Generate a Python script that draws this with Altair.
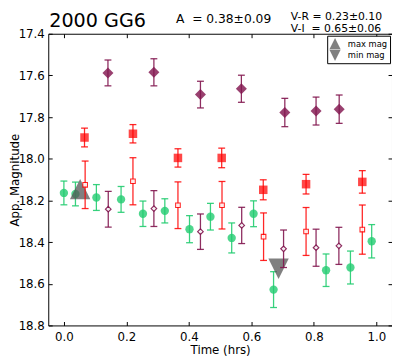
import altair as alt
import pandas as pd

# ---------------- data ----------------
# purple filled diamonds
pf_t = [0.141, 0.288, 0.437, 0.568, 0.707, 0.807, 0.881]
pf_m = [17.588, 17.585, 17.692, 17.664, 17.778, 17.771, 17.762]
pf_e = [0.062, 0.065, 0.064, 0.065, 0.068, 0.067, 0.068]
# red filled squares
rf_t = [0.066, 0.221, 0.365, 0.505, 0.638, 0.775, 0.955]
rf_m = [17.898, 17.880, 17.996, 17.996, 18.149, 18.122, 18.111]
rf_e = [0.045, 0.044, 0.044, 0.047, 0.048, 0.047, 0.054]
# red open squares
ro_t = [0.068, 0.221, 0.365, 0.506, 0.639, 0.775, 0.955]
ro_m = [18.125, 18.108, 18.223, 18.223, 18.374, 18.349, 18.340]
ro_e = [0.114, 0.113, 0.112, 0.114, 0.114, 0.115, 0.118]
# purple open diamonds
po_t = [0.142, 0.288, 0.437, 0.569, 0.703, 0.807, 0.880]
po_m = [18.242, 18.239, 18.350, 18.320, 18.432, 18.427, 18.418]
po_e = [0.086, 0.086, 0.085, 0.087, 0.090, 0.089, 0.089]
# green circles
g_t = [0.0, 0.037, 0.104, 0.183, 0.253, 0.323, 0.402, 0.469, 0.537, 0.607, 0.671, 0.839, 0.917, 0.985]
g_m = [18.164, 18.169, 18.186, 18.195, 18.264, 18.250, 18.338, 18.278, 18.380, 18.264, 18.628, 18.535, 18.522, 18.396]
g_e = [0.057, 0.057, 0.062, 0.062, 0.061, 0.058, 0.065, 0.064, 0.072, 0.062, 0.086, 0.078, 0.079, 0.080]
# extremes (triangles)
ext_t = [0.052, 0.687]
ext_m = [18.146, 18.528]
ext_k = ["max mag", "min mag"]

x_ticks = [0.0, 0.2, 0.4, 0.6, 0.8, 1.0]
y_ticks = [17.4, 17.6, 17.8, 18.0, 18.2, 18.4, 18.6, 18.8]

title_txt = "2000 GG6"
amp_txt = "A\u00a0 = 0.38±0.09"
vr_txt = "V-R = 0.23±0.10"
vi_txt = "V-I\u00a0 = 0.65±0.06"

# ---------------- styling ----------------
FONT = "DejaVu Sans"
W, H = 350, 297
GREEN = "#22cc70"
RED = "#ff0000"
PURPLE = "#82164f"
GRAY = "#555555"
UP = "M0,-1L1,1L-1,1Z"
DOWN = "M0,1L1,-1L-1,-1Z"

xs = alt.Scale(domain=[-0.05, 1.05], nice=False, zero=False)
ys = alt.Scale(domain=[17.4, 18.8], reverse=True, nice=False, zero=False)


def frame(t, m, e):
    d = pd.DataFrame({"t": t, "mag": m})
    d["lo"] = [a - b for a, b in zip(m, e)]
    d["hi"] = [a + b for a, b in zip(m, e)]
    return d


def errbars(d, color, opacity=1.0):
    base = alt.Chart(d)
    rule = base.mark_rule(color=color, strokeWidth=1.3, opacity=opacity).encode(
        x=alt.X("t:Q", scale=xs, axis=None),
        y=alt.Y("lo:Q", scale=ys, axis=None),
        y2="hi:Q",
    )
    caps = [
        base.mark_tick(orient="horizontal", size=7, thickness=1.3, color=color, opacity=opacity).encode(
            x=alt.X("t:Q", scale=xs, axis=None),
            y=alt.Y(f"{f}:Q", scale=ys, axis=None),
        )
        for f in ("lo", "hi")
    ]
    return [rule] + caps


def points(d, shape, size, fill, stroke, opacity, sw=0.0):
    return alt.Chart(d).mark_point(
        shape=shape, size=size, fill=fill, stroke=stroke, strokeWidth=sw,
        opacity=opacity, fillOpacity=1, strokeOpacity=1,
    ).encode(
        x=alt.X("t:Q", scale=xs, axis=None),
        y=alt.Y("mag:Q", scale=ys, axis=None),
    )


common_lab = dict(labelFont=FONT, labelFontSize=12, labelColor="black",
                  titleFont=FONT, titleFontSize=12, titleColor="black", titleFontWeight="normal")
tick_ax = dict(labels=False, title=None, domain=False, grid=False, ticks=True,
               tickSize=4, tickColor="black", tickWidth=1)

x_main = alt.Axis(orient="bottom", values=x_ticks, format=".1f", title="Time (hrs)", ticks=False,
                  tickSize=0, domain=False, grid=False, labelPadding=6, titlePadding=3, **common_lab)
y_main = alt.Axis(orient="left", values=y_ticks, format=".1f", title="App. Magnitude", ticks=False,
                  tickSize=0, domain=False, grid=False, labelPadding=4, titleX=-27, **common_lab)
x_in_bottom = alt.Axis(orient="top", offset=-H, values=x_ticks, **tick_ax)
x_in_top = alt.Axis(orient="bottom", offset=-H, values=x_ticks, **tick_ax)
y_in_left = alt.Axis(orient="right", offset=-W, values=y_ticks, **tick_ax)
y_in_right = alt.Axis(orient="left", offset=-W, values=y_ticks, **tick_ax)

gdf = frame(g_t, g_m, g_e)
carriers = [
    alt.Chart(gdf).mark_point(opacity=0).encode(
        x=alt.X("t:Q", scale=xs, axis=xa), y=alt.Y("mag:Q", scale=ys, axis=ya))
    for xa, ya in [(x_main, y_main), (x_in_bottom, y_in_left), (x_in_top, y_in_right)]
]

ext_df = pd.DataFrame({"t": ext_t, "mag": ext_m, "kind": ext_k})
tri = alt.Chart(ext_df).mark_point(filled=True, size=430, color=GRAY, opacity=0.75, strokeWidth=0).encode(
    x=alt.X("t:Q", scale=xs, axis=None),
    y=alt.Y("mag:Q", scale=ys, axis=None),
    shape=alt.Shape("kind:N", scale=alt.Scale(domain=ext_k, range=[UP, DOWN]),
                    legend=alt.Legend(title=None, orient="top-right", offset=2, fillColor="white",
                                      strokeColor="black", padding=2, cornerRadius=0,
                                      labelFont=FONT, labelFontSize=8.5, labelColor="black",
                                      labelOffset=7, symbolSize=130, symbolFillColor=GRAY,
                                      symbolStrokeWidth=0, symbolOpacity=0.75, rowPadding=0)),
)

rodf = frame(ro_t, ro_m, ro_e)
rfdf = frame(rf_t, rf_m, rf_e)
podf = frame(po_t, po_m, po_e)
pfdf = frame(pf_t, pf_m, pf_e)

layers = carriers
layers += errbars(gdf, GREEN, 0.9) + [points(gdf, "circle", 72, GREEN, GREEN, 0.8)]
layers += [tri]
layers += errbars(rodf, RED, 0.85) + [points(rodf, "square", 22, "white", RED, 0.85, 1.1)]
layers += errbars(rfdf, RED, 0.85) + [points(rfdf, "square", 75, RED, RED, 0.72)]
layers += errbars(podf, PURPLE, 0.9) + [points(podf, "diamond", 32, "white", PURPLE, 0.9, 1.2)]
layers += errbars(pfdf, PURPLE, 0.9) + [points(pfdf, "diamond", 125, PURPLE, PURPLE, 0.82)]

one = pd.DataFrame({"a": [0]})


def label(txt, x, y, size):
    return alt.Chart(one).mark_text(text=txt, align="left", baseline="alphabetic", fontSize=size,
                                    font=FONT, color="black").encode(x=alt.value(x), y=alt.value(y))


layers += [
    label(title_txt, 1, -6.5, 19.5),
    label(amp_txt, 130, -11, 12.5),
    label(vr_txt, 247, -14, 11),
    label(vi_txt, 247, -2, 11),
]

chart = alt.layer(*layers).resolve_axis(x="independent", y="independent").properties(
    width=W, height=H,
    padding={"left": 41, "top": 23, "right": 0, "bottom": 34},
    autosize=alt.AutoSizeParams(type="none"),
    background="white",
).configure_view(stroke="black", strokeWidth=1)

chart.save("out.html", embed_options={"renderer": "svg", "actions": False})
